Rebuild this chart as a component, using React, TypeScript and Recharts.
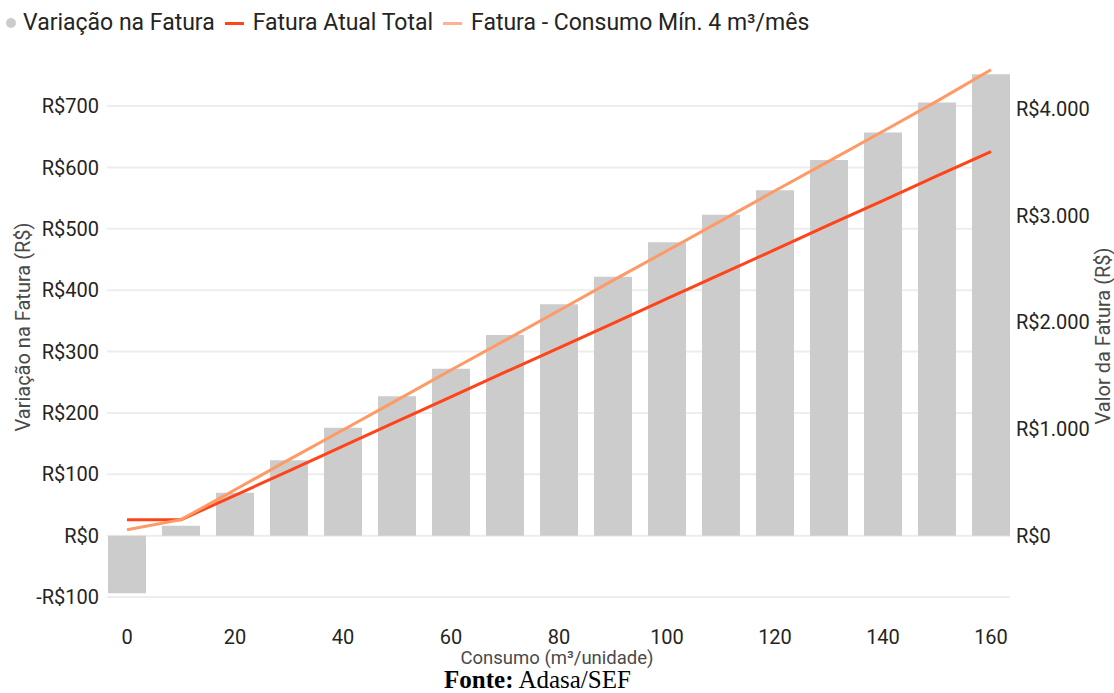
import React from 'react';
import { ComposedChart, Bar, Line, XAxis, YAxis, CartesianGrid, Legend } from 'recharts';

const categories = [0, 10, 20, 30, 40, 50, 60, 70, 80, 90, 100, 110, 120, 130, 140, 150, 160];
const variacaoNaFatura = [-94, 16, 70, 123, 176, 227, 272, 327, 377, 422, 478, 523, 563, 612, 657, 706, 752];
const faturaAtualTotal = [148, 150, 378, 608, 838, 1072, 1300, 1532, 1760, 1990, 2222, 2450, 2680, 2912, 3140, 3372, 3600];
const faturaConsumoMin = [55, 150, 430, 712, 990, 1270, 1552, 1830, 2110, 2392, 2670, 2950, 3232, 3510, 3790, 4072, 4367];

const leftTicks = [-100, 0, 100, 200, 300, 400, 500, 600, 700];
const rightTicks = [0, 1000, 2000, 3000, 4000];

const seriesNames = {
  variacao: 'Variação na Fatura',
  atual: 'Fatura Atual Total',
  minimo: 'Fatura - Consumo Mín. 4 m³/mês',
};

const data = categories.map((c, i) => ({
  cat: c,
  variacao: variacaoNaFatura[i],
  atual: faturaAtualTotal[i],
  minimo: faturaConsumoMin[i],
}));

const FONT = 'Roboto, "Noto Sans", sans-serif';
const TEXT = '#252423';
const TITLE = '#4a4a4a';
const BAR = '#CCCCCC';
const RED = '#FF4419';
const ORANGE = '#FF9A66';

const fmtLeft = (v: number) => (v < 0 ? `-R$${Math.abs(v)}` : `R$${v}`);
const fmtRight = (v: number) => `R$${String(v).replace(/\B(?=(\d{3})+(?!\d))/g, '.')}`;

const renderLegend = () => (
  <div
    style={{
      height: 53,
      boxSizing: 'border-box',
      paddingTop: 7,
      paddingLeft: 6,
      display: 'flex',
      alignItems: 'flex-start',
      fontFamily: FONT,
      fontSize: 23,
      lineHeight: '24px',
      color: TEXT,
      whiteSpace: 'nowrap',
    }}
  >
    <span style={{ display: 'inline-flex', alignItems: 'center', height: 24 }}>
      <span style={{ width: 10, height: 10, borderRadius: 5, background: BAR, marginRight: 7 }} />
      <span>{seriesNames.variacao}</span>
    </span>
    <span style={{ display: 'inline-flex', alignItems: 'center', height: 24, marginLeft: 10 }}>
      <span style={{ width: 19, height: 3, background: RED, marginRight: 9 }} />
      <span>{seriesNames.atual}</span>
    </span>
    <span style={{ display: 'inline-flex', alignItems: 'center', height: 24, marginLeft: 10 }}>
      <span style={{ width: 19, height: 3, background: '#FFB291', marginRight: 9 }} />
      <span>{seriesNames.minimo}</span>
    </span>
  </div>
);

const XLabel = (props: any) => {
  const vb = props.viewBox || {};
  return (
    <text
      x={vb.x + vb.width / 2 - 2}
      y={vb.y + 61}
      textAnchor="middle"
      dominantBaseline="central"
      fontFamily={FONT}
      fontSize={18.5}
      fill={TITLE}
    >
      Consumo (m³/unidade)
    </text>
  );
};

const LeftLabel = (props: any) => {
  const vb = props.viewBox || {};
  const cx = vb.x + 23;
  const cy = vb.y + vb.height / 2;
  return (
    <text
      x={cx}
      y={cy}
      transform={`rotate(-90 ${cx} ${cy})`}
      textAnchor="middle"
      dominantBaseline="central"
      fontFamily={FONT}
      fontSize={20}
      fill={TITLE}
    >
      Variação na Fatura (R$)
    </text>
  );
};

const RightLabel = (props: any) => {
  const vb = props.viewBox || {};
  const cx = vb.x + 85;
  const cy = vb.y + vb.height / 2 + 9;
  return (
    <text
      x={cx}
      y={cy}
      transform={`rotate(-90 ${cx} ${cy})`}
      textAnchor="middle"
      dominantBaseline="central"
      fontFamily={FONT}
      fontSize={20}
      fill={TITLE}
    >
      Valor da Fatura (R$)
    </text>
  );
};

export default function App() {
  return (
    <div style={{ position: 'absolute', left: 0, top: 0, width: 1114, height: 693, background: '#fff' }}>
      <ComposedChart
        width={1114}
        height={693}
        data={data}
        margin={{ top: 4, right: 0, bottom: 26, left: 0 }}
      >
        <Legend verticalAlign="top" align="left" content={renderLegend} />
        <CartesianGrid
          vertical={false}
          horizontal
          yAxisId="left"
          syncWithTicks
          stroke="#EDEDED"
          strokeWidth={2}
          x={107}
          width={903}
        />
        <XAxis
          dataKey="cat"
          type="category"
          interval={1}
          tickLine={false}
          axisLine={false}
          tickSize={0}
          tickMargin={33}
          height={70}
          tick={{ fill: TEXT, fontSize: 20, fontFamily: FONT }}
          label={<XLabel />}
        />
        <YAxis
          yAxisId="left"
          orientation="left"
          width={100}
          domain={[-100, 780]}
          ticks={leftTicks}
          tickFormatter={fmtLeft}
          tickLine={false}
          axisLine={false}
          tickSize={0}
          tickMargin={1}
          tick={{ fill: TEXT, fontSize: 20, fontFamily: FONT }}
          label={<LeftLabel />}
        />
        <YAxis
          yAxisId="right"
          orientation="right"
          width={96}
          domain={[-575, 4486]}
          ticks={rightTicks}
          tickFormatter={fmtRight}
          tickLine={false}
          axisLine={false}
          tickSize={0}
          tickMargin={-2}
          tick={{ fill: TEXT, fontSize: 20, fontFamily: FONT }}
          label={<RightLabel />}
        />
        <Bar yAxisId="left" dataKey="variacao" name={seriesNames.variacao} fill={BAR} barSize={38} isAnimationActive={false} />
        <Line
          yAxisId="right"
          type="linear"
          dataKey="atual"
          name={seriesNames.atual}
          stroke={RED}
          strokeWidth={3}
          dot={false}
          activeDot={false}
          isAnimationActive={false}
        />
        <Line
          yAxisId="right"
          type="linear"
          dataKey="minimo"
          name={seriesNames.minimo}
          stroke={ORANGE}
          strokeWidth={3}
          dot={false}
          activeDot={false}
          isAnimationActive={false}
        />
      </ComposedChart>
      <div
        style={{
          position: 'absolute',
          left: 0,
          width: 1075,
          top: 667,
          height: 25,
          textAlign: 'center',
          fontFamily: '"Liberation Serif", "Times New Roman", serif',
          fontSize: 25,
          lineHeight: '25px',
          color: '#000',
        }}
      >
        <b>Fonte:</b> Adasa/SEF
      </div>
    </div>
  );
}
